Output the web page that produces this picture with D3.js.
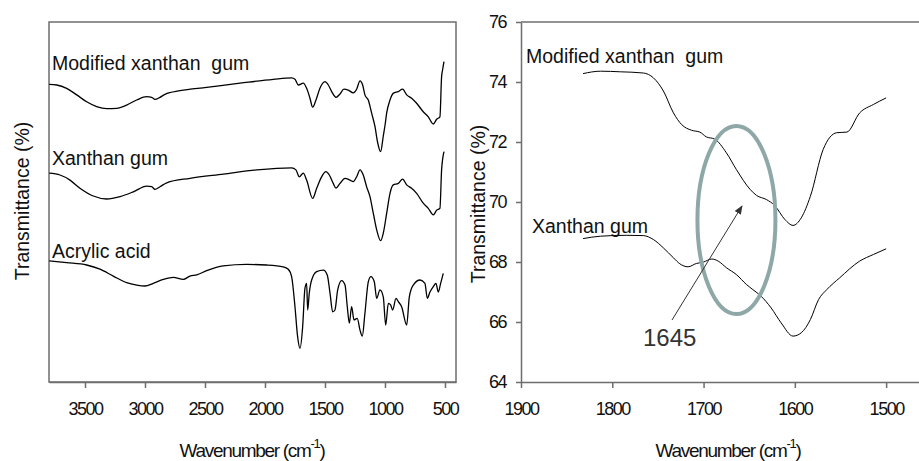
<!DOCTYPE html>
<html>
<head>
<meta charset="utf-8">
<script src="https://cdn.jsdelivr.net/npm/d3@7"></script>
<style>
	body { margin: 0; background: #fff; }
	text { font-family: "Liberation Sans", Arial, sans-serif; fill: #111; }
	.tick text { letter-spacing: -1.5px; }
</style>
</head>
<body>
<div id="chart"></div>
<script>
// Data =============================================================

// left panel: full spectra, x = wavenumber (cm-1), y = stacked transmittance (arbitrary offset)
var wideTicks = [3500, 3000, 2500, 2000, 1500, 1000, 500];

var wideModified = [
	[3798, 99.2], [3736, 99], [3653, 97.9], [3569, 95.7], [3486, 93.4], [3403, 91.8], [3319, 91.1],
	[3236, 91.2], [3153, 92.3], [3069, 94], [2986, 95.1], [2944, 94.9], [2917, 94.2], [2875, 94.9],
	[2833, 95.9], [2708, 97.1], [2486, 98.2], [2208, 99.6], [1931, 100.9], [1778, 101.4], [1750, 100.9],
	[1722, 99], [1681, 99.6], [1653, 97.9], [1625, 94.6], [1603, 91.6], [1575, 94], [1542, 97.9],
	[1500, 100.1], [1472, 99], [1444, 96.8], [1408, 94.9], [1375, 96], [1342, 97.6], [1306, 97.3],
	[1264, 96.4], [1236, 97.6], [1208, 100.4], [1186, 99], [1167, 95.7], [1139, 94], [1111, 89.6],
	[1083, 85.1], [1062, 80], [1036, 76.8], [1014, 82], [998, 86], [986, 89.6], [958, 94], [931, 96.2],
	[889, 96.8], [853, 97.6], [819, 95.7], [778, 94.6], [736, 92.9], [681, 90.1], [639, 88.4],
	[597, 86], [569, 87.6], [542, 88.4], [528, 101.8], [520, 104], [508, 106.8]
];

var wideXanthan = [
	[3798, 69.6], [3708, 69], [3625, 67.3], [3542, 64.6], [3431, 62], [3319, 61], [3208, 61.8],
	[3097, 63.4], [2986, 65.3], [2944, 65.1], [2917, 64.2], [2875, 65.1], [2819, 66.4], [2625, 67.9],
	[2347, 69.3], [2069, 70.7], [1778, 71.4], [1742, 70.7], [1714, 68.4], [1681, 69.6], [1653, 67.3],
	[1603, 61.2], [1569, 64.6], [1528, 68.4], [1492, 70.1], [1464, 69], [1431, 66.2], [1408, 64.6],
	[1375, 66.2], [1333, 67.9], [1292, 67.3], [1264, 66.8], [1236, 68.4], [1208, 70.7], [1181, 69],
	[1153, 65.1], [1125, 61.8], [1097, 56.2], [1069, 50.7], [1036, 47.1], [1014, 49.6], [986, 56.2],
	[958, 62.9], [931, 65.7], [889, 66.2], [853, 67.6], [819, 65.7], [778, 64.6], [736, 62.9],
	[681, 59.6], [639, 57.9], [597, 55.7], [569, 57.3], [542, 57.9], [528, 70.7], [508, 76.8]
];

var wideAcrylic = [
	[3798, 40.4], [3653, 39.8], [3486, 39], [3375, 37.6], [3264, 35.3], [3153, 33.1], [3069, 32.3],
	[3000, 32], [2931, 32.9], [2847, 34.2], [2764, 34.9], [2681, 34.2], [2625, 35.3], [2569, 35.7],
	[2486, 37.1], [2347, 38.7], [2153, 39.2], [1986, 39], [1847, 38.4], [1806, 37.6], [1778, 35.1],
	[1750, 25.1], [1728, 15.1], [1708, 11.2], [1686, 18.4], [1667, 31.2], [1653, 32.9], [1644, 24],
	[1631, 29.6], [1611, 34], [1569, 36.8], [1514, 37.3], [1481, 35.7], [1458, 29.6], [1436, 23.4],
	[1417, 24], [1394, 30.7], [1361, 33.8], [1333, 32.3], [1314, 25.1], [1297, 19.6], [1278, 25.1],
	[1258, 20.7], [1231, 21.2], [1208, 17.3], [1189, 15.3], [1167, 22.9], [1139, 33.4], [1117, 35.1],
	[1089, 33.4], [1069, 27.9], [1042, 30.7], [1014, 28.4], [994, 19], [972, 26.2], [953, 25.7],
	[936, 24], [908, 27.9], [889, 26.8], [861, 25.1], [819, 19], [797, 28.4], [764, 32.3], [708, 34],
	[667, 32.9], [647, 27.9], [625, 30], [597, 31.8], [575, 32.9], [556, 30], [536, 32.9], [514, 36.2]
];

// right panel: zoom 1900-1500 cm-1, y = transmittance (%)
var zoomXTicks = [1900, 1800, 1700, 1600, 1500];
var zoomYTicks = [64, 66, 68, 70, 72, 74, 76];

var zoomModified = [
	[1832, 74.28], [1813, 74.36], [1791, 74.34], [1766, 74.3], [1755, 74.14], [1744, 73.7],
	[1733, 72.97], [1724, 72.58], [1713, 72.39], [1704, 72.33], [1697, 72.17], [1688, 72.1],
	[1675, 71.64], [1664, 71.08], [1649, 70.42], [1642, 70.22], [1631, 70.08], [1622, 69.88],
	[1611, 69.42], [1602, 69.22], [1593, 69.47], [1583, 70.19], [1569, 71.75], [1554, 72.31],
	[1543, 72.33], [1529, 72.97], [1514, 73.25], [1500, 73.47]
];

var zoomXanthan = [
	[1832, 68.78], [1813, 68.86], [1784, 68.89], [1766, 68.88], [1755, 68.75], [1744, 68.47],
	[1733, 68.14], [1726, 67.94], [1717, 67.84], [1708, 67.95], [1700, 68.0], [1691, 68.1],
	[1684, 68.03], [1675, 67.81], [1664, 67.58], [1653, 67.25], [1646, 67.08], [1637, 66.86],
	[1626, 66.47], [1615, 65.97], [1602, 65.53], [1593, 65.64], [1583, 66.08], [1574, 66.75],
	[1565, 67.08], [1551, 67.47], [1529, 68.03], [1514, 68.25], [1500, 68.44]
];

// Chart =============================================================

var svg = d3.select("#chart").append("svg")
	.attr("width", 919)
	.attr("height", 461);

var frameColor = "#6e6e6e";

// --- left panel
var xWide = d3.scaleLinear().domain([3800, 408]).range([49, 456]);
var yWide = d3.scaleLinear().domain([0, 120]).range([382, 22]);

svg.append("rect")
	.attr("x", 49).attr("y", 22)
	.attr("width", 407).attr("height", 360)
	.attr("fill", "none")
	.attr("stroke", frameColor)
	.attr("stroke-width", 1.5);

var wideAxis = svg.append("g")
	.attr("transform", "translate(0,382)")
	.call(d3.axisBottom(xWide).tickValues(wideTicks).tickSizeInner(6).tickSizeOuter(0)
		.tickPadding(14).tickFormat(d3.format("d")));
styleAxis(wideAxis);

var lineWide = d3.line()
	.x(function (d) { return xWide(d[0]); })
	.y(function (d) { return yWide(d[1]); })
	.curve(d3.curveMonotoneX);

[wideModified, wideXanthan, wideAcrylic].forEach(function (s) {
	svg.append("path")
		.datum(s)
		.attr("d", lineWide)
		.attr("fill", "none")
		.attr("stroke", "#000")
		.attr("stroke-width", 1.3);
});

addLabel(52, 70, "Modified xanthan\u00a0 gum");
addLabel(52, 165, "Xanthan gum");
addLabel(52, 258, "Acrylic acid");

// --- right panel
var xZoom = d3.scaleLinear().domain([1900, 1464]).range([521, 919]);
var yZoom = d3.scaleLinear().domain([64, 76]).range([382, 22]);

svg.append("line")
	.attr("x1", 521).attr("x2", 919).attr("y1", 22).attr("y2", 22)
	.attr("stroke", frameColor).attr("stroke-width", 1.5);

var zoomX = svg.append("g")
	.attr("transform", "translate(0,382)")
	.call(d3.axisBottom(xZoom).tickValues(zoomXTicks).tickSizeInner(6).tickSizeOuter(0)
		.tickPadding(14).tickFormat(d3.format("d")));
styleAxis(zoomX);

var zoomY = svg.append("g")
	.attr("transform", "translate(521,0)")
	.call(d3.axisLeft(yZoom).tickValues(zoomYTicks).tickSizeInner(5).tickSizeOuter(0).tickPadding(10));
styleAxis(zoomY);

var lineZoom = d3.line()
	.x(function (d) { return xZoom(d[0]); })
	.y(function (d) { return yZoom(d[1]); })
	.curve(d3.curveMonotoneX);

[zoomModified, zoomXanthan].forEach(function (s) {
	svg.append("path")
		.datum(s)
		.attr("d", lineZoom)
		.attr("fill", "none")
		.attr("stroke", "#000")
		.attr("stroke-width", 1);
});

addLabel(526, 63, "Modified xanthan\u00a0 gum");
addLabel(532, 233, "Xanthan gum");

// highlight ellipse around 1645 cm-1
svg.append("ellipse")
	.attr("cx", xZoom(1664)).attr("cy", yZoom(69.4))
	.attr("rx", 39).attr("ry", 94)
	.attr("fill", "none")
	.attr("stroke", "#8ea8a8")
	.attr("stroke-width", 4);

// arrow + annotation
svg.append("defs").append("marker")
	.attr("id", "head")
	.attr("viewBox", "0 0 10 10")
	.attr("refX", 9).attr("refY", 5)
	.attr("markerWidth", 9).attr("markerHeight", 9)
	.attr("orient", "auto")
	.append("path")
	.attr("d", "M0,1 L10,5 L0,9 z")
	.attr("fill", "#333");

svg.append("line")
	.attr("x1", 672).attr("y1", 320)
	.attr("x2", 742).attr("y2", 206)
	.attr("stroke", "#333")
	.attr("stroke-width", 1)
	.attr("marker-end", "url(#head)");

svg.append("text")
	.attr("x", 643).attr("y", 346)
	.attr("font-size", "24px")
	.style("fill", "#333")
	.text("1645");

// --- axis titles
axisTitle(252, 457);
axisTitle(728, 457);

yTitle(29, 201);
yTitle(485, 204);

// Functions =============================================================

function styleAxis(g) {
	g.select(".domain").attr("stroke", frameColor).attr("stroke-width", 1.5);
	g.selectAll(".tick line").attr("stroke", frameColor).attr("stroke-width", 1.5);
	g.selectAll(".tick text")
		.attr("font-size", "18px")
		.attr("font-family", "'Liberation Sans', Arial, sans-serif")
		.style("fill", "#111");
}

function addLabel(x, y, txt) {
	svg.append("text")
		.attr("x", x).attr("y", y)
		.attr("font-size", "19.5px")
		.text(txt);
}

function axisTitle(cx, y) {
	var t = svg.append("text")
		.attr("x", cx).attr("y", y)
		.attr("text-anchor", "middle")
		.attr("font-size", "19px")
		.style("letter-spacing", "-1.3px");
	t.append("tspan").text("Wavenumber (cm");
	t.append("tspan").attr("dy", -9).attr("font-size", "13px").text("-1");
	t.append("tspan").attr("dy", 9).text(")");
}

function yTitle(cx, cy) {
	svg.append("text")
		.attr("transform", "translate(" + cx + "," + cy + ") rotate(-90)")
		.attr("text-anchor", "middle")
		.attr("font-size", "19.5px")
		.text("Transmittance (%)");
}
</script>
</body>
</html>
